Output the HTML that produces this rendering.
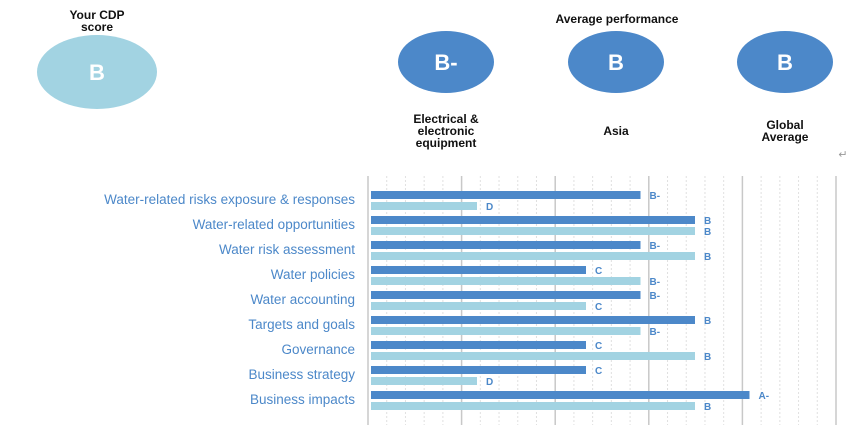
<!DOCTYPE html>
<html><head><meta charset="utf-8"><style>
body{margin:0;background:#fff;width:860px;height:428px;overflow:hidden}
svg{display:block;font-family:"Liberation Sans",Arial,sans-serif}
</style></head><body>
<svg id="chart" width="860" height="428" viewBox="0 0 860 428">
<g font-weight="bold" text-anchor="middle">
<text x="97" y="19" font-size="12" fill="#111">Your CDP</text>
<text x="97" y="31" font-size="12" fill="#111">score</text>
<ellipse cx="97" cy="72" rx="60" ry="37" fill="#a2d3e2"/>
<text x="97" y="80" font-size="22" fill="#fff">B</text>
<text x="617" y="23" font-size="12" fill="#111">Average performance</text>
<ellipse cx="446" cy="62" rx="48" ry="31" fill="#4c88c9"/>
<text x="446" y="70" font-size="22" fill="#fff">B-</text>
<ellipse cx="616" cy="62" rx="48" ry="31" fill="#4c88c9"/>
<text x="616" y="70" font-size="22" fill="#fff">B</text>
<ellipse cx="785" cy="62" rx="48" ry="31" fill="#4c88c9"/>
<text x="785" y="70" font-size="22" fill="#fff">B</text>
<g font-size="12" fill="#111">
<text x="446" y="123">Electrical &amp;</text>
<text x="446" y="135">electronic</text>
<text x="446" y="147">equipment</text>
<text x="616" y="135">Asia</text>
<text x="785" y="129">Global</text>
<text x="785" y="141">Average</text>
</g>
<text x="843" y="158" font-size="11" fill="#999" font-weight="normal">↵</text>
</g>
<g id="grid"></g><g id="bars"></g>
</svg>
<script>
const categories=["Water-related risks exposure & responses","Water-related opportunities","Water risk assessment","Water policies","Water accounting","Targets and goals","Governance","Business strategy","Business impacts"];
const companyScores=["B-","B","B-","C","B-","B","C","C","A-"];
const sectorScores=["D","B","B","B-","C","B-","B","D","B"];
const gradeLevels={"D":2,"C":4,"B-":5,"B":6,"A-":7,"A":8};
const NS="http://www.w3.org/2000/svg";
const x0=371,step=54.5;
function xs(g){return x0+gradeLevels[g]*step-3;}
function rowY(i){return 191+25*i;}
function mk(t,a,p){const e=document.createElementNS(NS,t);for(const k in a)e.setAttribute(k,a[k]);p.appendChild(e);return e;}
const grid=document.getElementById('grid'),bars=document.getElementById('bars');
for(let k=0;k<=25;k++){const x=368+k*18.72;const major=k%5===0;
const l=mk('line',{x1:x,x2:x,y1:176,y2:425,stroke:major?'#c8c8c8':'#e0e0e0','stroke-width':major?1.5:1,'stroke-dasharray':major?'':'2,2'},grid);

}
categories.forEach((c,i)=>{const y=rowY(i);
const t=mk('text',{x:355,y:y+13,'text-anchor':'end','font-size':13.5,fill:'#4c88c9'},bars);t.textContent=c;


const b1=mk('rect',{x:x0,y:y,width:xs(companyScores[i])-x0,height:8,fill:'#4c88c9'},bars);


const b2=mk('rect',{x:x0,y:y+11,width:xs(sectorScores[i])-x0,height:8,fill:'#a2d3e2'},bars);


const l1=mk('text',{x:xs(companyScores[i])+9,y:y+8,'font-size':10,'font-weight':'bold',fill:'#4c88c9'},bars);l1.textContent=companyScores[i];


const l2=mk('text',{x:xs(sectorScores[i])+9,y:y+19,'font-size':10,'font-weight':'bold',fill:'#4c88c9'},bars);l2.textContent=sectorScores[i];


});
</script>
</body></html>
